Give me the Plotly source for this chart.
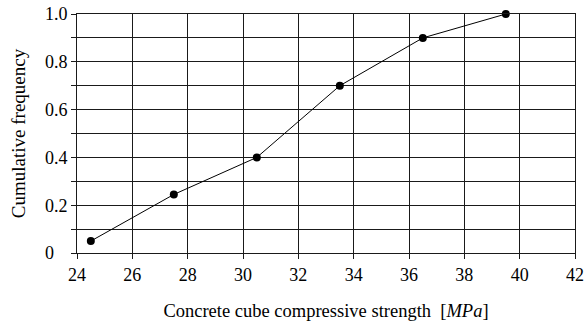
import plotly.graph_objects as go

# Cumulative frequency of concrete cube compressive strength
strength = [24.5, 27.5, 30.5, 33.5, 36.5, 39.5]
cum_freq = [0.05, 0.245, 0.40, 0.70, 0.90, 1.00]

x_ticks = [24, 26, 28, 30, 32, 34, 36, 38, 40, 42]
y_ticks = [0, 0.2, 0.4, 0.6, 0.8, 1.0]
# left-aligned look for the y labels: pad the short "0" with no-break spaces
y_labels = ["0\u00a0\u00a0\u00a0", "0.2", "0.4", "0.6", "0.8", "1.0"]

FONT = "Liberation Serif"
GRID = "#1a1a1a"

fig = go.Figure()
fig.add_trace(go.Scatter(
    x=strength, y=cum_freq, mode="lines+markers",
    line=dict(color="black", width=1),
    marker=dict(color="black", size=8),
    showlegend=False, cliponaxis=False,
))

fig.update_xaxes(
    range=[24, 42], tickvals=x_ticks, automargin=False,
    ticks="outside", ticklen=5, tickcolor=GRID, tickwidth=1,
    showgrid=True, gridcolor=GRID, gridwidth=1,
    showline=True, linecolor=GRID, linewidth=1, mirror=True,
    zeroline=False,
    tickfont=dict(family=FONT, size=18, color="black"),
    title=dict(text="Concrete cube compressive strength  [<i>MPa</i>]\u00a0\u00a0\u00a0",
               font=dict(family=FONT, size=18.5, color="black"), standoff=20),
)
fig.update_yaxes(
    range=[0, 1.0], tickvals=y_ticks, ticktext=y_labels, automargin=False,
    ticks="outside", ticklen=5, tickcolor=GRID, tickwidth=1,
    showgrid=True, gridcolor=GRID, gridwidth=1,
    minor=dict(dtick=0.1, tick0=0, ticks="outside", ticklen=5, tickcolor=GRID,
               showgrid=True, gridcolor=GRID, gridwidth=1),
    showline=True, linecolor=GRID, linewidth=1, mirror=True,
    zeroline=False,
    tickfont=dict(family=FONT, size=18, color="black"),
    title=dict(text="Cumulative frequency",
               font=dict(family=FONT, size=19, color="black"), standoff=14),
)

fig.update_layout(
    width=586, height=322,
    margin=dict(l=77, r=11, t=14, b=69),
    paper_bgcolor="white", plot_bgcolor="white",
)

fig.write_html("out.html")
